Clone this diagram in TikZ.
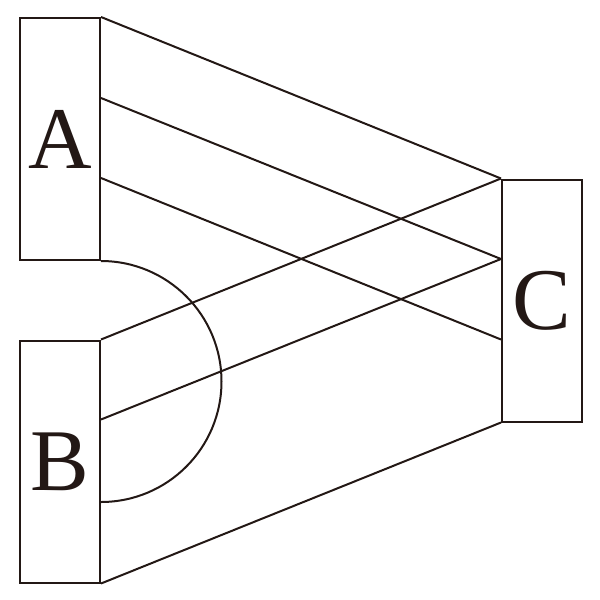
\documentclass[tikz,border=0pt]{standalone}
\usepackage{fontspec}
\setmainfont{Liberation Serif}
\definecolor{ink}{HTML}{231815}
\begin{document}
\begin{tikzpicture}[x=1pt,y=-1pt,line width=2pt,
  blk/.style={draw=ink,line width=2pt,minimum width=80pt,minimum height=242pt,inner sep=0pt,
    font=\fontsize{88}{88}\selectfont,text=ink}]
\useasboundingbox (0,0) rectangle (600,600);
\node[blk] (A) at (60,139) {A};
\node[blk] (B) at (60,461.5) {B};
\node[blk] (C) at (542,300.5) {C};
\draw[ink] (A.north east) -- (C.north west);
\draw[ink] ([yshift=-81pt]A.north east) -- ([yshift=-80.5pt]C.north west);
\draw[ink] ([yshift=-161pt]A.north east) -- ([yshift=-161pt]C.north west);
\draw[ink] (B.north east) -- (C.north west);
\draw[ink] ([yshift=-80pt]B.north east) -- ([yshift=-80.5pt]C.north west);
\draw[ink] (B.south east) -- (C.south west);
\draw[ink] (A.south east) arc[start angle=-90,end angle=90,radius=120.5];
\end{tikzpicture}
\end{document}
